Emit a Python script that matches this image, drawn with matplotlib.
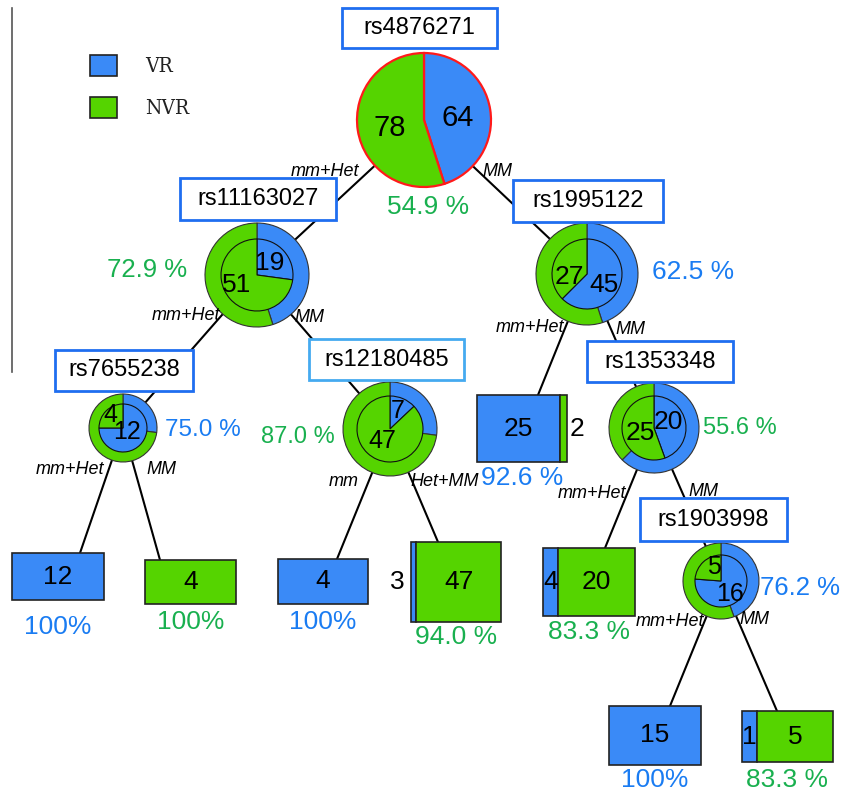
import matplotlib.pyplot as plt
from matplotlib.patches import Rectangle

# ---- data ----
node_names = ["rs4876271", "rs11163027", "rs1995122", "rs7655238",
              "rs12180485", "rs1353348", "rs1903998"]
node_vr = [64, 19, 45, 12, 7, 20, 16]
node_nvr = [78, 51, 27, 4, 47, 25, 5]
node_parent = [None, 0, 0, 1, 1, 2, 5]
node_branch = [None, "mm+Het", "MM", "mm+Het", "MM", "MM", "MM"]
node_pct = ["54.9 %", "72.9 %", "62.5 %", "75.0 %", "87.0 %", "55.6 %", "76.2 %"]

leaf_vr = [12, 0, 4, 3, 25, 4, 15, 1]
leaf_nvr = [0, 4, 0, 47, 2, 20, 0, 5]
leaf_parent = [3, 3, 4, 4, 2, 5, 6, 6]
leaf_branch = ["mm+Het", "MM", "mm", "Het+MM", "mm+Het", "mm+Het", "mm+Het", "MM"]
leaf_pct = ["100%", "100%", "100%", "94.0 %", "92.6 %", "83.3 %", "100%", "83.3 %"]

legend_labels = ["VR", "NVR"]

# ---- layout (pixels, y down) ----
node_cx = [424, 257, 587, 123, 390, 654, 721]
node_cy = [120, 275, 274, 428, 429, 428, 581]
node_R = [67, 52, 51, 34, 47, 45, 38]
node_r = [0, 36, 35, 24, 33, 32, 26]
node_box = [(342, 8, 155, 40), (180, 178, 156, 42), (513, 180, 150, 42),
            (55, 350, 138, 41), (309, 339, 155, 41), (587, 341, 146, 41),
            (640, 498, 147, 43)]
node_box_col = ["#1f6ef0"] * 4 + ["#45aaf0"] + ["#1f6ef0"] * 2
node_num_size = [21, 19, 19, 18, 18, 19, 18]
node_pct_size = [19, 18.5, 19, 17.5, 17, 17, 18.5]
vr_off = [(34, -2), (13, -12), (17, 11), (4, 4), (8, -18), (14, -6), (9, 13)]
nvr_off = [(-34, 8), (-20, 10), (-18, 3), (-13, -13), (-8, 12), (-14, 5), (-7, -14)]
pct_off = [(4, 87), (-110, -5), (106, -2), (80, 2), (-92, 8), (86, 0), (79, 7)]
node_branch_xy = [None, (325, 172), (497, 172), (186, 316), (309, 317),
                  (630, 330), (703, 491)]

leaf_x0 = [12, 145, 278, 411, 477, 543, 609, 742]
leaf_y0 = [553, 560, 559, 542, 395, 548, 706, 711]
leaf_w = [92, 91, 90, 90, 90, 92, 92, 91]
leaf_h = [47, 44, 45, 80, 67, 68, 59, 51]
leaf_pct_y = [627, 622, 622, 637, 478, 632, 780, 780]
leaf_attach_x = [80, 160, 337, 438, 538, 605, 670, 777]
leaf_branch_xy = [(70, 470), (161, 470), (344, 482), (445, 481),
                  (530, 327), (592, 493), (670, 621), (754, 620)]

BLUE = "#3a8af7"
GREEN = "#55d400"
PCT_BLUE = "#1a7cf2"
PCT_GREEN = "#19b04f"
FONT = "Liberation Sans"

fig = plt.figure(figsize=(8.48, 7.95), dpi=100)
ax = fig.add_axes([0, 0, 1, 1])
ax.axis("off")

# left rule
ax.plot([12, 12], [8, 372], color="#555555", lw=1.2, zorder=1)

# legend
for i, lab in enumerate(legend_labels):
    ax.add_patch(Rectangle((90, 55 + 42 * i), 27, 21, facecolor=[BLUE, GREEN][i],
                           edgecolor="#222222", lw=1.2, zorder=5))
    ax.text(145, 66 + 42 * i, lab, fontsize=15, family="DejaVu Serif",
            fontstretch="condensed", ha="left", va="center", color="#222222")

# tree edges
for i, p in enumerate(node_parent):
    if p is None:
        continue
    ax.plot([node_cx[p], node_cx[i]], [node_cy[p], node_cy[i]],
            color="black", lw=1.5, zorder=1)
    bx, by = node_branch_xy[i]
    ax.text(bx, by, node_branch[i], fontsize=13, style="italic", family=FONT,
            ha="center", va="center", zorder=7)

for j, p in enumerate(leaf_parent):
    ax.plot([node_cx[p], leaf_attach_x[j]], [node_cy[p], leaf_y0[j]],
            color="black", lw=1.5, zorder=1)
    bx, by = leaf_branch_xy[j]
    ax.text(bx, by, leaf_branch[j], fontsize=13, style="italic", family=FONT,
            ha="center", va="center", zorder=7)

# internal nodes: outer ring = parent split, inner pie = node split
for i, name in enumerate(node_names):
    cx, cy = node_cx[i], node_cy[i]
    p = node_parent[i]
    if p is None:
        ax.pie([node_vr[i], node_nvr[i]], colors=[BLUE, GREEN], startangle=-90,
               counterclock=True, center=(cx, cy), radius=node_R[i], frame=True,
               wedgeprops=dict(edgecolor="#ff1a1a", linewidth=1.6, zorder=3))
    else:
        ax.pie([node_vr[p], node_nvr[p]], colors=[BLUE, GREEN], startangle=-90,
               counterclock=True, center=(cx, cy), radius=node_R[i], frame=True,
               wedgeprops=dict(edgecolor="#333333", linewidth=0.8, zorder=3))
        ax.pie([node_vr[i], node_nvr[i]], colors=[BLUE, GREEN], startangle=-90,
               counterclock=True, center=(cx, cy), radius=node_r[i], frame=True,
               wedgeprops=dict(edgecolor="#111111", linewidth=0.8, zorder=4))
    ax.text(cx + vr_off[i][0], cy + vr_off[i][1], str(node_vr[i]),
            fontsize=node_num_size[i], family=FONT, ha="center", va="center", zorder=6)
    ax.text(cx + nvr_off[i][0], cy + nvr_off[i][1], str(node_nvr[i]),
            fontsize=node_num_size[i], family=FONT, ha="center", va="center", zorder=6)
    pc = PCT_BLUE if node_vr[i] > node_nvr[i] else PCT_GREEN
    ax.text(cx + pct_off[i][0], cy + pct_off[i][1], node_pct[i],
            fontsize=node_pct_size[i], family=FONT, color=pc,
            ha="center", va="center", zorder=6)
    x0, y0, w, h = node_box[i]
    ax.add_patch(Rectangle((x0, y0), w, h, facecolor="white",
                           edgecolor=node_box_col[i], lw=2, zorder=5))
    ax.text(x0 + w / 2, y0 + h / 2, name, fontsize=17, family=FONT,
            ha="center", va="center", zorder=6)

# leaves: stacked VR / NVR bars
for j in range(len(leaf_vr)):
    n = leaf_vr[j] + leaf_nvr[j]
    x0, y0, w, h = leaf_x0[j], leaf_y0[j], leaf_w[j], leaf_h[j]
    yc = y0 + h / 2
    wb = w * leaf_vr[j] / n
    wg = w - wb
    segs = []
    if leaf_vr[j]:
        ax.barh(yc, wb, left=x0, height=h, color=BLUE, edgecolor="#222222",
                lw=1.2, zorder=3)
        segs.append((leaf_vr[j], x0, wb, "left"))
    if leaf_nvr[j]:
        ax.barh(yc, wg, left=x0 + wb, height=h, color=GREEN, edgecolor="#222222",
                lw=1.2, zorder=3)
        segs.append((leaf_nvr[j], x0 + wb, wg, "right"))
    for val, sx, sw, side in segs:
        if sw < 10 and side == "left":
            tx, ha = sx - 6, "right"
        elif sw < 10:
            tx, ha = sx + sw + 3, "left"
        else:
            tx, ha = sx + sw / 2, "center"
        ax.text(tx, yc, str(val), fontsize=19, family=FONT, ha=ha, va="center",
                zorder=6)
    pc = PCT_BLUE if leaf_vr[j] > leaf_nvr[j] else PCT_GREEN
    ax.text(x0 + w / 2, leaf_pct_y[j], leaf_pct[j], fontsize=19, family=FONT,
            color=pc, ha="center", va="center", zorder=6)

ax.set_xlim(0, 848)
ax.set_ylim(795, 0)
ax.set_aspect("equal")
fig.savefig("out.png", dpi=100)
